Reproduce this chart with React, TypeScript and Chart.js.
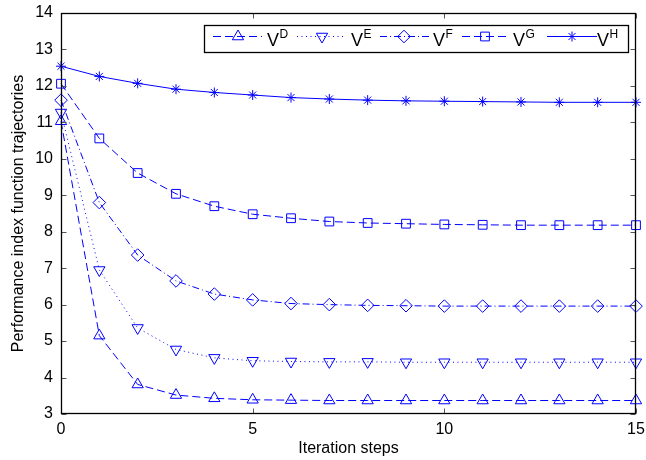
import React, { useEffect, useRef } from 'react';
import { Chart, registerables } from 'chart.js';

Chart.register(...registerables);

const steps = [0, 1, 2, 3, 4, 5, 6, 7, 8, 9, 10, 11, 12, 13, 14, 15];
const vD = [11.03, 5.15, 3.81, 3.52, 3.43, 3.39, 3.38, 3.37, 3.37, 3.37, 3.37, 3.37, 3.37, 3.37, 3.37, 3.37];
const vE = [11.27, 6.95, 5.36, 4.77, 4.54, 4.46, 4.44, 4.43, 4.43, 4.42, 4.42, 4.42, 4.42, 4.42, 4.42, 4.42];
const vF = [11.61, 8.8, 7.36, 6.65, 6.29, 6.13, 6.03, 6.0, 5.98, 5.97, 5.96, 5.96, 5.96, 5.96, 5.96, 5.96];
const vG = [12.06, 10.56, 9.61, 9.04, 8.7, 8.48, 8.37, 8.28, 8.24, 8.22, 8.2, 8.19, 8.18, 8.18, 8.18, 8.18];
const vH = [12.54, 12.26, 12.07, 11.91, 11.82, 11.75, 11.68, 11.64, 11.61, 11.59, 11.58, 11.57, 11.56, 11.55, 11.55, 11.55];
const seriesNames = ['D', 'E', 'F', 'G', 'H'];
const yTicks = [3, 4, 5, 6, 7, 8, 9, 10, 11, 12, 13, 14];
const xTicks = [0, 5, 10, 15];
const xTitle = 'Iteration steps';
const yTitle = 'Performance index function trajectories';

const BLUE = '#0000ff';
const FONT = '"Liberation Sans", Arial, sans-serif';

const styles = [
  { point: 'triangle', rot: 0, r: 6.5, dash: [8, 4] },
  { point: 'triangle', rot: 180, r: 6.5, dash: [1, 3.5] },
  { point: 'rectRot', rot: 0, r: 6.3, dash: [7, 3, 1, 3] },
  { point: 'rect', rot: 0, r: 6.2, dash: [8, 4] },
  { point: 'star', rot: 0, r: 5, dash: [] },
];

const legendPos = [
  { x1: 213, x2: 262, m: 238, v: 267 },
  { x1: 297, x2: 346, m: 322, v: 351 },
  { x1: 380, x2: 430, m: 404, v: 433 },
  { x1: 462, x2: 509, m: 485, v: 513 },
  { x1: 547, x2: 597, m: 572, v: 597 },
];

function drawMarker(ctx: CanvasRenderingContext2D, style: string, x: number, y: number, r: number, rotDeg: number) {
  ctx.beginPath();
  let rad = (rotDeg * Math.PI) / 180;
  if (style === 'triangle') {
    ctx.moveTo(x + Math.sin(rad) * r, y - Math.cos(rad) * r);
    rad += (2 * Math.PI) / 3;
    ctx.lineTo(x + Math.sin(rad) * r, y - Math.cos(rad) * r);
    rad += (2 * Math.PI) / 3;
    ctx.lineTo(x + Math.sin(rad) * r, y - Math.cos(rad) * r);
    ctx.closePath();
  } else if (style === 'rectRot') {
    ctx.moveTo(x - r, y);
    ctx.lineTo(x, y - r);
    ctx.lineTo(x + r, y);
    ctx.lineTo(x, y + r);
    ctx.closePath();
  } else if (style === 'rect') {
    const s = Math.SQRT1_2 * r;
    ctx.rect(x - s, y - s, 2 * s, 2 * s);
  } else if (style === 'star') {
    for (let i = 0; i < 4; i++) {
      const a = (i * Math.PI) / 4;
      ctx.moveTo(x - Math.cos(a) * r, y - Math.sin(a) * r);
      ctx.lineTo(x + Math.cos(a) * r, y + Math.sin(a) * r);
    }
  }
  ctx.stroke();
}

const decorPlugin = {
  id: 'decor',
  afterDatasetsDraw(chart: any) {
    const { ctx, chartArea } = chart;
    const { left, right, top, bottom } = chartArea;
    const xs = chart.scales.x;
    const ys = chart.scales.y;
    ctx.save();
    ctx.lineWidth = 1;
    ctx.setLineDash([]);
    const L = Math.round(left) + 0.5;
    const R = Math.round(right) - 0.5;
    const T = Math.round(top) + 0.5;
    const B = Math.round(bottom) - 0.5;
    ctx.beginPath();
    const tl = 5;
    yTicks.forEach((v) => {
      const py = Math.round(ys.getPixelForValue(v)) + 0.5;
      ctx.moveTo(L, py);
      ctx.lineTo(L + tl, py);
      ctx.moveTo(R, py);
      ctx.lineTo(R - tl, py);
    });
    xTicks.forEach((v) => {
      const px = Math.round(xs.getPixelForValue(v)) + 0.5;
      ctx.moveTo(px, B);
      ctx.lineTo(px, B - tl);
      ctx.moveTo(px, T);
      ctx.lineTo(px, T + tl);
    });
    ctx.strokeStyle = '#555';
    ctx.stroke();
    ctx.strokeStyle = '#000';
    ctx.lineWidth = 1.3;
    ctx.strokeRect(L, T, R - L, B - T);
    ctx.restore();
  },
  afterDraw(chart: any) {
    const { ctx, chartArea } = chart;
    ctx.save();
    ctx.fillStyle = '#000';
    ctx.font = `16px ${FONT}`;
    ctx.textAlign = 'center';
    ctx.textBaseline = 'alphabetic';
    ctx.fillText(xTitle, (chartArea.left + chartArea.right) / 2, 453);
    ctx.save();
    ctx.translate(23, (chartArea.top + chartArea.bottom) / 2);
    ctx.rotate(-Math.PI / 2);
    ctx.fillText(yTitle, 0, 0);
    ctx.restore();

    const bx = 204.5, by = 25.5, bw = 424, bh = 27;
    ctx.fillStyle = '#fff';
    ctx.fillRect(bx, by, bw, bh);
    ctx.strokeStyle = '#000';
    ctx.lineWidth = 1.3;
    ctx.strokeRect(bx, by, bw, bh);
    const ly = 36.5;
    seriesNames.forEach((name, i) => {
      const st = styles[i];
      const p = legendPos[i];
      ctx.strokeStyle = BLUE;
      ctx.lineWidth = 1;
      ctx.setLineDash(st.dash);
      ctx.beginPath();
      ctx.moveTo(p.x1, ly);
      ctx.lineTo(p.x2, ly);
      ctx.stroke();
      ctx.setLineDash([]);
      drawMarker(ctx, st.point, p.m, ly, st.r, st.rot);
      ctx.fillStyle = '#000';
      ctx.textAlign = 'left';
      ctx.font = `18px ${FONT}`;
      ctx.fillText('V', p.v, 46);
      const w = ctx.measureText('V').width;
      ctx.font = `12px ${FONT}`;
      ctx.fillText(name, p.v + w + 0.5, 38);
    });
    ctx.restore();
  },
};

export default function App() {
  const ref = useRef<HTMLCanvasElement>(null);
  useEffect(() => {
    if (!ref.current) return;
    const all = [vD, vE, vF, vG, vH];
    const chart = new Chart(ref.current, {
      type: 'line',
      data: {
        datasets: all.map((vals, i) => ({
          label: 'V' + seriesNames[i],
          data: steps.map((s, k) => ({ x: s, y: vals[k] })),
          borderColor: BLUE,
          backgroundColor: 'transparent',
          borderWidth: 1,
          borderDash: styles[i].dash,
          pointStyle: styles[i].point as any,
          pointRotation: styles[i].rot,
          pointRadius: styles[i].r,
          pointBorderWidth: 1,
          pointBorderColor: BLUE,
          pointBackgroundColor: 'transparent',
          tension: 0,
          fill: false,
          clip: false as any,
        })),
      },
      options: {
        animation: false,
        responsive: false,
        devicePixelRatio: 1,
        layout: { padding: { left: 0, right: 10, top: 13, bottom: 0 } },
        plugins: { legend: { display: false }, tooltip: { enabled: false } },
        scales: {
          x: {
            type: 'linear',
            min: 0,
            max: 15,
            afterBuildTicks: (axis: any) => {
              axis.ticks = xTicks.map((v) => ({ value: v }));
            },
            afterFit: (axis: any) => {
              axis.height = 46;
              axis.paddingLeft = 0;
              axis.paddingRight = 0;
            },
            grid: { display: false, drawTicks: false, tickLength: 0 },
            border: { display: false },
            ticks: { color: '#000', font: { family: FONT, size: 16 }, padding: 6, maxRotation: 0 },
          },
          y: {
            type: 'linear',
            min: 3,
            max: 14,
            afterBuildTicks: (axis: any) => {
              axis.ticks = yTicks.map((v) => ({ value: v }));
            },
            afterFit: (axis: any) => {
              axis.width = 61;
              axis.paddingTop = 0;
              axis.paddingBottom = 0;
            },
            grid: { display: false, drawTicks: false, tickLength: 0 },
            border: { display: false },
            ticks: { color: '#000', font: { family: FONT, size: 16 }, padding: 8 },
          },
        },
      },
      plugins: [decorPlugin],
    });
    return () => chart.destroy();
  }, []);
  return (
    <div style={{ position: 'absolute', left: 0, top: 0, width: 646, height: 460, background: '#fff' }}>
      <canvas ref={ref} width={646} height={460} style={{ width: 646, height: 460 }} />
    </div>
  );
}
